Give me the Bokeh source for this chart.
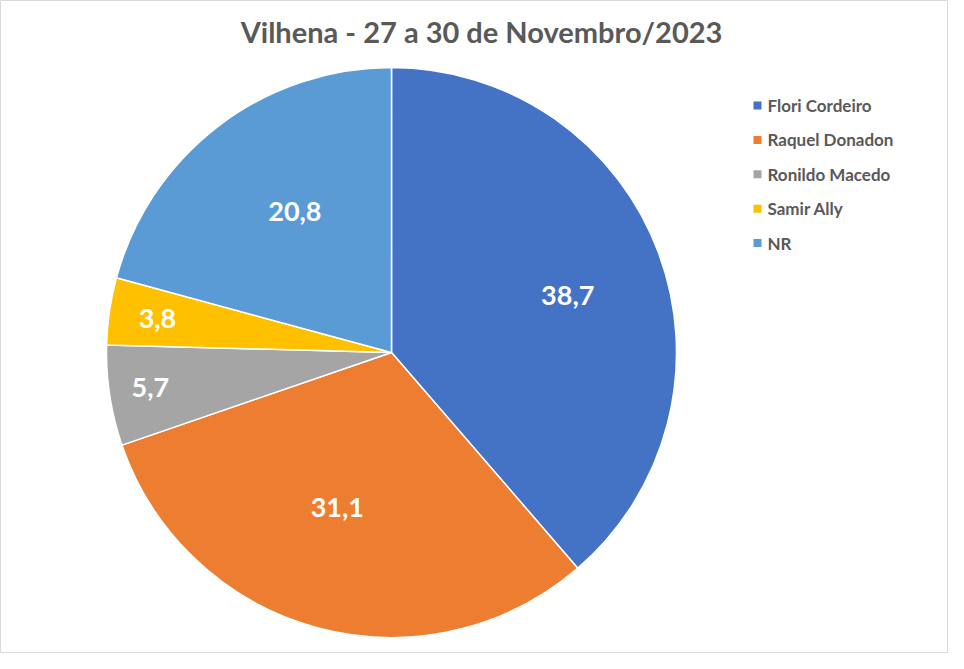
import math
from bokeh.plotting import figure
from bokeh.models import ColumnDataSource, Range1d
from bokeh.core.properties import value
from bokeh.embed import file_html
from bokeh.resources import INLINE

title = "Vilhena - 27 a 30 de Novembro/2023"
names = ["Flori Cordeiro", "Raquel Donadon", "Ronildo Macedo", "Samir Ally", "NR"]
values = [38.7, 31.1, 5.7, 3.8, 20.8]
labels = ["38,7", "31,1", "5,7", "3,8", "20,8"]
colors = ["#4472C4", "#ED7D31", "#A5A5A5", "#FFC000", "#5B9BD5"]

# label placement style (radius fraction, angular nudge in degrees)
LABEL_R = [0.65, 0.575, 0.855, 0.83, 0.6]
LABEL_SHIFT = [-2.5, -4.2, -0.4, 0.0, -3.0]

W, H = 948, 653
FONT = "Lato"

def px(X):
    return X

def py(Y):
    return H - Y

cx, cy, R = px(391), py(352), 285

total = sum(values)
starts, ends, lx, ly = [], [], [], []
cum = 0.0
for i, v in enumerate(values):
    a0 = math.pi / 2 - 2 * math.pi * cum / total
    cum += v
    a1 = math.pi / 2 - 2 * math.pi * cum / total
    starts.append(a0)
    ends.append(a1)
    mid = (a0 + a1) / 2 + math.radians(LABEL_SHIFT[i])
    f = LABEL_R[i]
    lx.append(cx + f * R * math.cos(mid))
    ly.append(cy + f * R * math.sin(mid))

src = ColumnDataSource(dict(start=starts, end=ends, color=colors, lx=lx, ly=ly, label=labels))

p = figure(width=W, height=H, x_range=Range1d(0, W), y_range=Range1d(0, H),
           output_backend="svg", toolbar_location=None, min_border=0)
p.axis.visible = False
p.grid.visible = False
p.outline_line_color = "#D9D9D9"
p.background_fill_color = "white"
p.border_fill_color = "white"

p.wedge(x=cx, y=cy, radius=R, start_angle="start", end_angle="end", direction="clock",
        fill_color="color", line_color="white", line_width=1.5, source=src)
p.text(x="lx", y="ly", text="label", source=src, text_color="white",
       text_font=value(FONT), text_font_style="bold", text_font_size="27px",
       text_align="center", text_baseline="middle")

p.text(x=[px(481)], y=[py(31)], text=[title], text_color="#595959",
       text_font=value(FONT), text_font_style="bold", text_font_size="29px",
       text_align="center", text_baseline="middle")

leg_y = [py(105 + i * 34.4) for i in range(len(names))]
p.rect(x=[px(757)] * len(names), y=leg_y, width=8, height=8, fill_color=colors, line_color=None)
p.text(x=[px(767)] * len(names), y=leg_y, text=names, text_color="#595959",
       text_font=value(FONT), text_font_style="bold", text_font_size="17px",
       text_align="left", text_baseline="middle")

open("out.html", "w").write(file_html(p, INLINE))
